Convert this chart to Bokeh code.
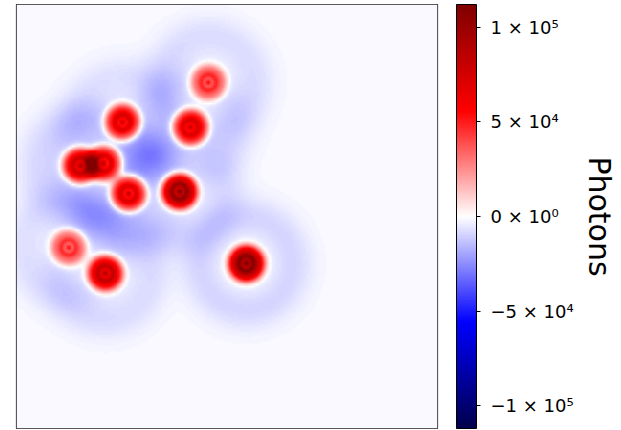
import numpy as np
from bokeh.plotting import figure
from bokeh.models import LinearColorMapper, ColorBar, FixedTicker, CustomJSTickFormatter, Title
from bokeh.embed import file_html
from bokeh.resources import INLINE

# Star list (image pixel coordinates 0..100, y up) and peak photons
star_x = [45.6, 25.2, 41.3, 15.2, 20.7, 26.6, 38.7, 12.4, 21.1, 54.6]
star_y = [81.6, 72.2, 71.0, 62.0, 62.5, 55.4, 55.9, 42.7, 36.6, 38.9]
star_peak = [52000, 80000, 80000, 85000, 80000, 85000, 105000, 52000, 85000, 105000]
halo_depth = [6500, 5500, 5500, 5500, 5500, 5500, 6000, 5500, 6500, 8000]
background = -1200.0

cbar_ticks = [-100000, -50000, 0, 50000, 100000]
cbar_labels = ["\u22121 \u00d7 10\u2075", "\u22125 \u00d7 10\u2074", "0 \u00d7 10\u2070",
               "5 \u00d7 10\u2074", "1 \u00d7 10\u2075"]
vlim = 112000

# seismic colormap
def seismic(n=256):
    pts = [(0.0, (0.0, 0.0, 0.3)), (0.25, (0.0, 0.0, 1.0)), (0.5, (1.0, 1.0, 1.0)),
           (0.75, (1.0, 0.0, 0.0)), (1.0, (0.5, 0.0, 0.0))]
    xs = [q[0] for q in pts]
    out = []
    for t in np.linspace(0, 1, n):
        c = [np.interp(t, xs, [q[1][k] for q in pts]) for k in range(3)]
        out.append("#%02x%02x%02x" % tuple(int(round(v * 255)) for v in c))
    return out

N = 220
g = (np.arange(N) + 0.5) * 100.0 / N
X, Y = np.meshgrid(g, g)
img = np.full((N, N), background)
for sx, sy, a, b in zip(star_x, star_y, star_peak, halo_depth):
    r = np.hypot(X - sx, Y - sy)
    core = a * np.exp(-(r / 4.2) ** 4) * (1 + 0.2 * np.cos(2 * np.pi * r / 1.9) * np.exp(-(r / 2.2) ** 2))
    halo = -b * np.exp(-((r - 10.8) / 5.0) ** 2)
    img += core + halo

mapper = LinearColorMapper(palette=seismic(), low=-vlim, high=vlim)

p = figure(x_range=(0, 100), y_range=(0, 100), frame_width=421, frame_height=424,
           x_axis_location=None, y_axis_location=None, toolbar_location=None,
           output_backend="svg", min_border_left=16, min_border_top=4,
           min_border_bottom=2, min_border_right=0)
p.grid.visible = False
p.outline_line_color = "#222222"
p.outline_line_width = 1.2
p.background_fill_color = "white"
p.image(image=[img], x=0, y=0, dw=100, dh=100, color_mapper=mapper)

code = "const m = {%s}; return m[String(tick)] ?? '';" % ", ".join(
    '"%d": "%s"' % (t, l) for t, l in zip(cbar_ticks, cbar_labels))
cb = ColorBar(color_mapper=mapper, width=20, padding=0, margin=0, location=(19, 0),
              ticker=FixedTicker(ticks=cbar_ticks),
              formatter=CustomJSTickFormatter(code=code),
              major_tick_out=4, major_tick_in=0, major_tick_line_color="black",
              bar_line_color="black", bar_line_width=1,
              label_standoff=10, major_label_text_font="DejaVu Sans",
              major_label_text_font_size="18px", major_label_text_color="black",
              background_fill_alpha=0, border_line_color=None)
p.add_layout(cb, "right")
p.add_layout(Title(text="Photons", align="center", text_font="DejaVu Sans",
                   text_font_size="30px", text_font_style="normal",
                   text_color="black", offset=0), "right")

open("out.html", "w").write(file_html(p, INLINE))
